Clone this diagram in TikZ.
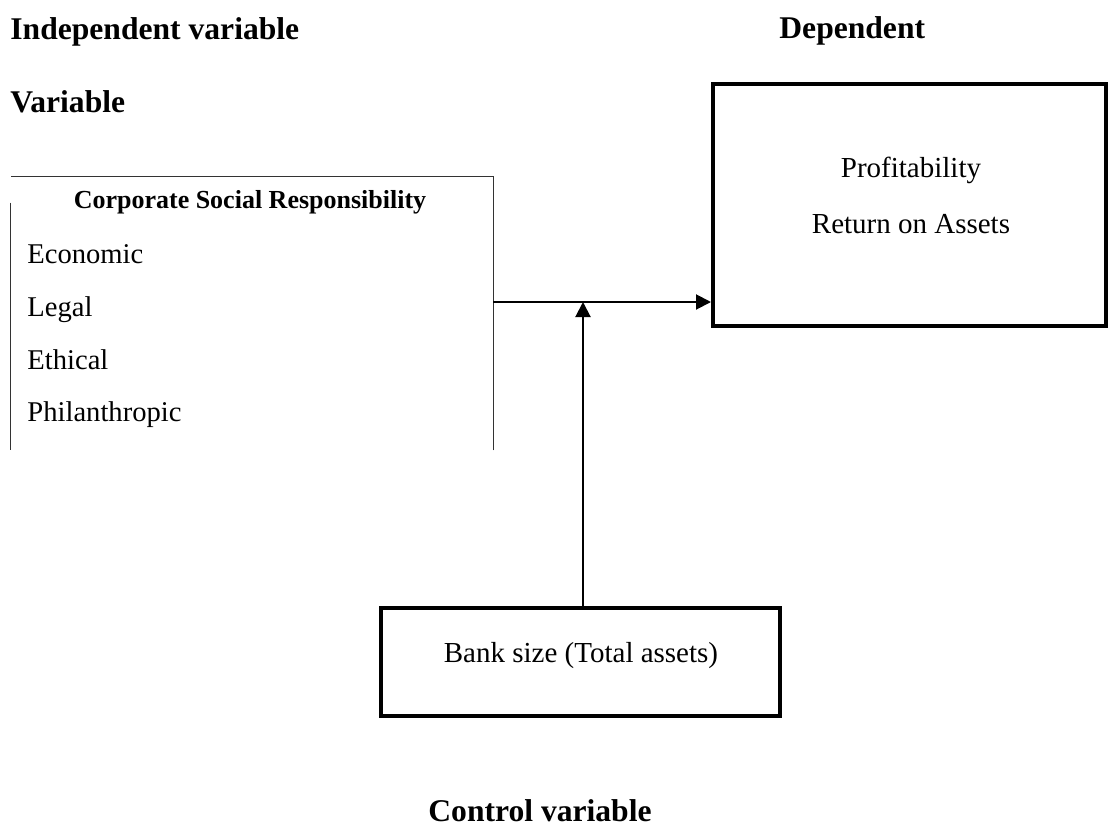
\documentclass[tikz,border=0pt]{standalone}
\usepackage{fontspec}
\setmainfont{Liberation Serif}
\usetikzlibrary{arrows.meta,positioning,calc}

\begin{document}
\begin{tikzpicture}[x=0.5pt,y=-0.5pt,
		head/.style={inner sep=0pt,font=\fontsize{15.8}{19}\selectfont\bfseries},
		txt/.style={inner sep=0pt,anchor=base,font=\fontsize{14.5}{17}\selectfont},
		item/.style={inner sep=0pt,anchor=base west,font=\fontsize{14.3}{17}\selectfont},
		bigbox/.style={draw,line width=2pt,inner sep=0pt},
		arr/.style={line width=1pt,-{Triangle[length=7.5pt,width=7.5pt]}}]
		\useasboundingbox[fill=white] (0,0) rectangle (1110,825);

		\node[head,anchor=base west]	(indep)		at	(10,39)		{Independent variable};
		\node[head,anchor=base west]	(indepvar)	at	(10,112)	{Variable};
		\node[head,anchor=base west]	(dep)		at	(779,38)	{Dependent};
		\node[head,anchor=base west]	(control)	at	(428,821)	{Control variable};

		% left box, open at the bottom
		\node[inner sep=0pt,minimum width=241pt,minimum height=136.5pt]	(csr)	at	(252,313.5)	{};
		\draw[black!80,line width=0.7pt] (csr.south east) -- (csr.north east) -- (csr.north west);
		\draw[black!80,line width=0.7pt] ($(csr.north west)+(0,26)$) -- (csr.south west);
		\node[inner sep=0pt,anchor=base,font=\fontsize{13}{16}\selectfont\bfseries]	(csrhead)	at	(250,208)	{Corporate Social Responsibility};
		\node[item]	(econ)		at	(27,263)	{Economic};
		\node[item]	(legal)		at	(27,316)	{Legal};
		\node[item]	(ethic)		at	(27,369)	{Ethical};
		\node[item]	(phil)		at	(27,421)	{Philanthropic};

		% right box
		\node[bigbox,minimum width=196.5pt,minimum height=121pt]	(prof)	at	(909.5,205)	{};
		\node[txt]	(profit)	at	(911,177)	{Profitability};
		\node[txt]	(roa)		at	(911,233)	{Return on Assets};

		% bottom box
		\node[bigbox,minimum width=199.5pt,minimum height=54pt]	(bank)	at	(580.5,662)	{};
		\node[txt]	(banksize)	at	(581,662)	{Bank size (Total assets)};

		\coordinate	(join)	at	(583,302);
		\draw[arr] (join -| csr.east) -- (join -| prof.west);
		\draw[arr] (join |- bank.north) -- (join);
	\end{tikzpicture}
\end{document}
